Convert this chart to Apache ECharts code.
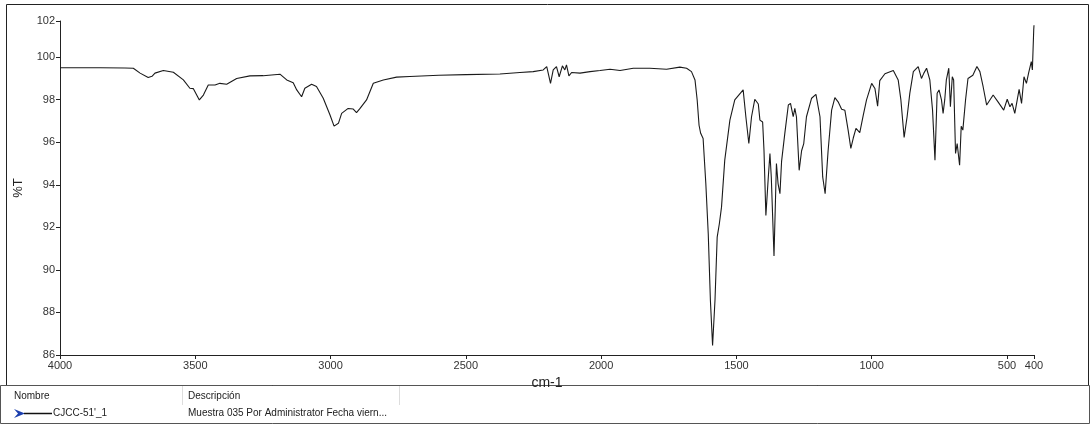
<!DOCTYPE html>
<html>
<head>
<meta charset="utf-8">
<script src="https://cdn.jsdelivr.net/npm/echarts@6/dist/echarts.min.js"></script>
<style>
  html, body { margin: 0; padding: 0; background: #fff; }
  #main { width: 1091px; height: 426px; }
</style>
</head>
<body>
<div id="main"></div>
<script>
// IR spectrum, wavenumber (cm-1) vs %T
const wavenumbers = [
  4000, 3850, 3760, 3729, 3704, 3674, 3660, 3649, 3618, 3581, 3544, 3520, 3507, 3485, 3470, 3452,
  3427, 3409, 3384, 3347, 3298, 3249, 3187, 3162, 3138, 3125, 3107, 3095, 3070, 3052, 3027, 3002,
  2987, 2971, 2959, 2935, 2916, 2904, 2891, 2867, 2842, 2805, 2756, 2707, 2600, 2500, 2374, 2300,
  2251, 2214, 2201, 2187, 2177, 2165, 2155, 2143, 2134, 2128, 2119, 2109, 2078, 2041, 2004, 1967,
  1930, 1881, 1820, 1758, 1709, 1684, 1666, 1653, 1645, 1638, 1632, 1623, 1613, 1604, 1596, 1588,
  1579, 1571, 1563, 1555, 1543, 1524, 1506, 1475, 1465, 1454, 1444, 1432, 1419, 1413, 1403, 1398,
  1391, 1382, 1376, 1371, 1361, 1352, 1346, 1339, 1333, 1321, 1308, 1300, 1290, 1284, 1278, 1268,
  1259, 1251, 1241, 1222, 1206, 1191, 1181, 1172, 1161, 1148, 1136, 1124, 1111, 1099, 1087, 1077,
  1068, 1058, 1044, 1031, 1019, 1000, 988, 978, 970, 951, 920, 902, 892, 880, 869, 859,
  846, 828, 816, 807, 797, 785, 775, 766, 758, 751, 742, 736, 730, 724, 715, 709,
  702, 697, 690, 684, 675, 669, 663, 653, 644, 626, 611, 600, 588, 575, 551, 533,
  512, 499, 489, 481, 471, 462, 455, 446, 437, 428, 420, 410, 406, 401, 400
];
const transmittance = [
  99.50, 99.50, 99.49, 99.48, 99.25, 99.04, 99.10, 99.25, 99.37, 99.29, 98.93, 98.54, 98.52, 97.99, 98.22, 98.69,
  98.69, 98.77, 98.73, 99.00, 99.12, 99.13, 99.20, 98.93, 98.80, 98.46, 98.14, 98.54, 98.73, 98.62, 98.07, 97.28,
  96.76, 96.89, 97.36, 97.59, 97.56, 97.39, 97.59, 97.99, 98.77, 98.93, 99.06, 99.09, 99.15, 99.18, 99.21, 99.28,
  99.32, 99.40, 99.56, 98.77, 99.40, 99.56, 99.08, 99.59, 99.40, 99.64, 99.12, 99.28, 99.25, 99.32, 99.37, 99.43,
  99.37, 99.48, 99.48, 99.43, 99.53, 99.48, 99.32, 98.93, 98.00, 96.80, 96.42, 96.18, 94.06, 91.70, 88.55, 86.45,
  88.60, 91.54, 92.17, 92.95, 95.16, 97.04, 97.99, 98.46, 97.20, 95.94, 97.20, 98.02, 97.80, 97.04, 96.95, 95.63,
  92.56, 94.37, 95.47, 94.37, 90.65, 95.00, 94.06, 93.58, 95.10, 96.42, 97.75, 97.83, 97.20, 97.59, 97.20, 94.68,
  95.60, 95.94, 97.20, 98.07, 98.25, 97.20, 94.37, 93.58, 95.60, 97.51, 98.10, 97.90, 97.55, 97.50, 96.57, 95.71,
  96.20, 96.65, 96.45, 97.28, 97.99, 98.77, 98.53, 97.70, 98.90, 99.22, 99.37, 98.93, 97.99, 96.23, 97.20, 98.30,
  99.32, 99.56, 99.00, 99.25, 99.48, 98.93, 97.51, 95.16, 98.30, 98.46, 97.99, 97.36, 97.99, 98.93, 99.48, 97.67,
  99.08, 98.93, 95.47, 95.94, 94.92, 96.75, 96.57, 97.99, 99.00, 99.15, 99.56, 99.32, 98.61, 97.75, 98.22, 97.90,
  97.51, 98.02, 97.67, 97.83, 97.36, 97.99, 98.49, 97.83, 99.08, 98.77, 99.25, 99.79, 99.40, 101.29, 101.50
];

const xTicks = [4000, 3500, 3000, 2500, 2000, 1500, 1000, 500, 400];
const yTicks = [86, 88, 90, 92, 94, 96, 98, 100, 101.7];

const legendName = "CJCC-51'_1";
const legendDesc = 'Muestra 035 Por Administrator Fecha viern...';

const chart = echarts.init(document.getElementById('main'));

const labelFont = { fontFamily: 'Liberation Sans', fontSize: 11, color: '#333' };
const tableFont = { fontFamily: 'Liberation Sans', fontSize: 10, fill: '#222' };

const option = {
  animation: false,
  backgroundColor: '#fff',
  grid: { left: 60, top: 21, right: 57, bottom: 71 },
  xAxis: {
    type: 'value',
    min: 400,
    max: 4000,
    inverse: true,
    name: 'cm-1',
    nameLocation: 'middle',
    nameGap: 15,
    nameTextStyle: { fontFamily: 'Liberation Sans', fontSize: 14, color: '#222' },
    axisLine: { lineStyle: { color: '#222', width: 1 } },
    axisTick: { customValues: xTicks, length: 4, lineStyle: { color: '#222' } },
    axisLabel: { customValues: xTicks, margin: 5, ...labelFont, formatter: v => String(v) },
    splitLine: { show: false }
  },
  yAxis: {
    type: 'value',
    min: 86,
    max: 101.7,
    name: '%T',
    nameLocation: 'middle',
    nameGap: 35,
    nameTextStyle: { fontFamily: 'Liberation Sans', fontSize: 13, color: '#222' },
    axisLine: { show: true, lineStyle: { color: '#222', width: 1 } },
    axisTick: { show: true, customValues: yTicks, length: 4, lineStyle: { color: '#222' } },
    axisLabel: {
      customValues: yTicks,
      margin: 5,
      ...labelFont,
      formatter: v => String(Math.round(v))
    },
    splitLine: { show: false }
  },
  series: [
    {
      name: legendName,
      type: 'line',
      data: wavenumbers.map((w, i) => [w, transmittance[i]]),
      showSymbol: false,
      lineStyle: { color: '#1a1a1a', width: 1.1 }
    }
  ],
  graphic: [
    // chart frame
    { type: 'rect', shape: { x: 6.5, y: 4.5, width: 1082, height: 381 },
      style: { fill: 'none', stroke: '#222', lineWidth: 1 }, silent: true },
    // table
    { type: 'rect', shape: { x: 0.5, y: 385.5, width: 1089, height: 38 },
      style: { fill: 'none', stroke: '#555', lineWidth: 1 }, silent: true },
    { type: 'line', shape: { x1: 182.5, y1: 386, x2: 182.5, y2: 405 },
      style: { stroke: '#ddd', lineWidth: 1 }, silent: true },
    { type: 'line', shape: { x1: 399.5, y1: 386, x2: 399.5, y2: 405 },
      style: { stroke: '#ddd', lineWidth: 1 }, silent: true },
    { type: 'text', x: 14, y: 391, style: { text: 'Nombre', ...tableFont } },
    { type: 'text', x: 188, y: 391, style: { text: 'Descripción', ...tableFont } },
    { type: 'polygon', shape: { points: [[14, 409], [25, 413.5], [14, 418], [18, 413.5]] },
      style: { fill: '#1c3fae' }, silent: true },
    { type: 'line', shape: { x1: 24, y1: 413.5, x2: 52, y2: 413.5 },
      style: { stroke: '#111', lineWidth: 1.5 }, silent: true },
    { type: 'text', x: 53, y: 408, style: { text: legendName, ...tableFont } },
    { type: 'text', x: 188, y: 408, style: { text: legendDesc, ...tableFont } }
  ]
};

chart.setOption(option);

window.addEventListener('resize', function () {
  chart.resize();
});
</script>
</body>
</html>
